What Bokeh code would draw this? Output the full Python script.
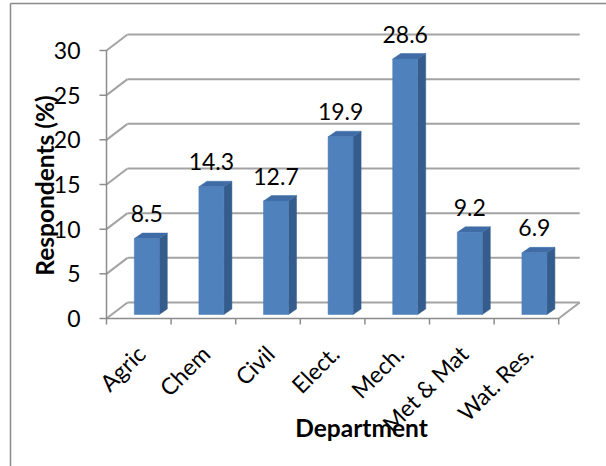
import numpy as np
from bokeh.plotting import figure
from bokeh.models import Range1d, ColumnDataSource
from bokeh.core.properties import value
from bokeh.embed import file_html
from bokeh.resources import INLINE

# ---- data -------------------------------------------------------------
departments = ["Agric", "Chem", "Civil", "Elect.", "Mech.", "Met & Mat", "Wat. Res."]
respondents_pct = [8.5, 14.3, 12.7, 19.9, 28.6, 9.2, 6.9]
y_ticks = [0, 5, 10, 15, 20, 25, 30]

# ---- layout (pixels) --------------------------------------------------
W, H = 606, 466
ORIGIN_X, ORIGIN_Y = 106.0, 318.0      # front corner of the floor
CAT_PX = 64.6                          # width of one category slot
VAL_PX = 268.0 / 30.0                  # pixels per percentage point

FONT = "Lato"
LABEL_SIZE = "23px"
TITLE_SIZE = "24.5px"
GRID_COLOR = "#A3A3A3"
AXIS_COLOR = "#8C8C8C"
FRONT, SIDE, TOP = "#4F81BD", "#345C8C", "#3F6CA6"


def dx(px):
    """pixel distance -> category units"""
    return px / CAT_PX


def dy(px):
    """pixel distance -> value units"""
    return px / VAL_PX


def at_x(px):
    return (px - ORIGIN_X) / CAT_PX


def at_y(py):
    return (ORIGIN_Y - py) / VAL_PX


p = figure(
    width=W, height=H,
    x_range=Range1d(at_x(0), at_x(W)),
    y_range=Range1d(at_y(H), at_y(0)),
    x_axis_type=None, y_axis_type=None,
    output_backend="svg", toolbar_location=None,
    min_border=0, outline_line_color=None,
    background_fill_color="white", border_fill_color="white",
)

n = len(departments)
ymax = y_ticks[-1]
WALL_DX, WALL_DY = dx(21), dy(16)       # depth of the 3-D floor / side wall

# chart area border
p.segment(x0=[at_x(10), at_x(10)], y0=[at_y(3), at_y(3)],
          x1=[at_x(10), at_x(W)], y1=[at_y(H), at_y(3)],
          line_color="#8A8A8A", line_width=1.5)

# gridlines on the back wall and the side wall
yt = np.array(y_ticks, dtype=float)
p.segment(x0=np.full(len(yt), WALL_DX), y0=yt + WALL_DY,
          x1=np.full(len(yt), n + WALL_DX), y1=yt + WALL_DY,
          line_color=GRID_COLOR, line_width=2)
p.segment(x0=np.zeros(len(yt)), y0=yt,
          x1=np.full(len(yt), WALL_DX), y1=yt + WALL_DY,
          line_color=GRID_COLOR, line_width=2)
# right edge of the floor
p.segment(x0=[n], y0=[0], x1=[n + WALL_DX], y1=[WALL_DY],
          line_color=GRID_COLOR, line_width=2)

# axes
p.segment(x0=[0, 0], y0=[0, 0], x1=[n, 0], y1=[0, ymax],
          line_color=AXIS_COLOR, line_width=1.5)
p.segment(x0=np.full(len(yt), -dx(7)), y0=yt, x1=np.zeros(len(yt)), y1=yt,
          line_color=AXIS_COLOR, line_width=1.5)
bounds = np.arange(n + 1, dtype=float)
p.segment(x0=bounds, y0=np.zeros(n + 1), x1=bounds, y1=np.full(n + 1, -dy(6)),
          line_color=AXIS_COLOR, line_width=1.5)

# 3-D columns
vals = np.array(respondents_pct)
centers = np.arange(n) + 0.5 + dx(8)
half = dx(12.5)
base = dy(4)
BAR_DX, BAR_DY = dx(8), dy(5.5)
left, right = centers - half, centers + half
tops = base + vals

side_xs = [[r, r + BAR_DX, r + BAR_DX, r] for r in right]
side_ys = [[base, base + BAR_DY, t + BAR_DY, t] for t in tops]
top_xs = [[l, l + BAR_DX, r + BAR_DX, r] for l, r in zip(left, right)]
top_ys = [[t, t + BAR_DY, t + BAR_DY, t] for t in tops]

p.patches(side_xs, side_ys, fill_color=SIDE, line_color=SIDE, line_width=0.5)
p.patches(top_xs, top_ys, fill_color=TOP, line_color=TOP, line_width=0.5)
p.quad(left=left, right=right, bottom=base, top=tops,
       fill_color=FRONT, line_color="#4A7AB4", line_width=0.5)

# value labels
lab = ColumnDataSource(dict(x=centers, y=tops + dy(25),
                            t=[f"{v:.1f}" for v in vals]))
p.text(x="x", y="y", text="t", source=lab, text_align="center",
       text_baseline="middle", text_font=value(FONT),
       text_font_size=LABEL_SIZE, text_color="#000000")

# value axis tick labels
p.text(x=np.full(len(yt), at_x(80)), y=yt, text=[str(v) for v in y_ticks],
       text_align="right", text_baseline="middle", text_font=value(FONT),
       text_font_size=LABEL_SIZE, text_color="#000000")

# category labels, rotated
p.text(x=np.arange(n) + 0.5 + dx(2), y=np.full(n, -dy(31)), text=departments,
       angle=np.pi / 4, text_align="right", text_baseline="middle",
       text_font=value(FONT), text_font_size=LABEL_SIZE, text_color="#000000")

# axis titles
p.text(x=[at_x(44)], y=[at_y(185)], text=["Respondents (%)"], angle=np.pi / 2,
       text_align="center", text_baseline="middle", text_font=value(FONT),
       text_font_style="bold", text_font_size=TITLE_SIZE, text_color="#000000")
p.text(x=[at_x(361)], y=[at_y(427)], text=["Department"],
       text_align="center", text_baseline="middle", text_font=value(FONT),
       text_font_style="bold", text_font_size=TITLE_SIZE, text_color="#000000")

open("out.html", "w").write(file_html(p, INLINE))
